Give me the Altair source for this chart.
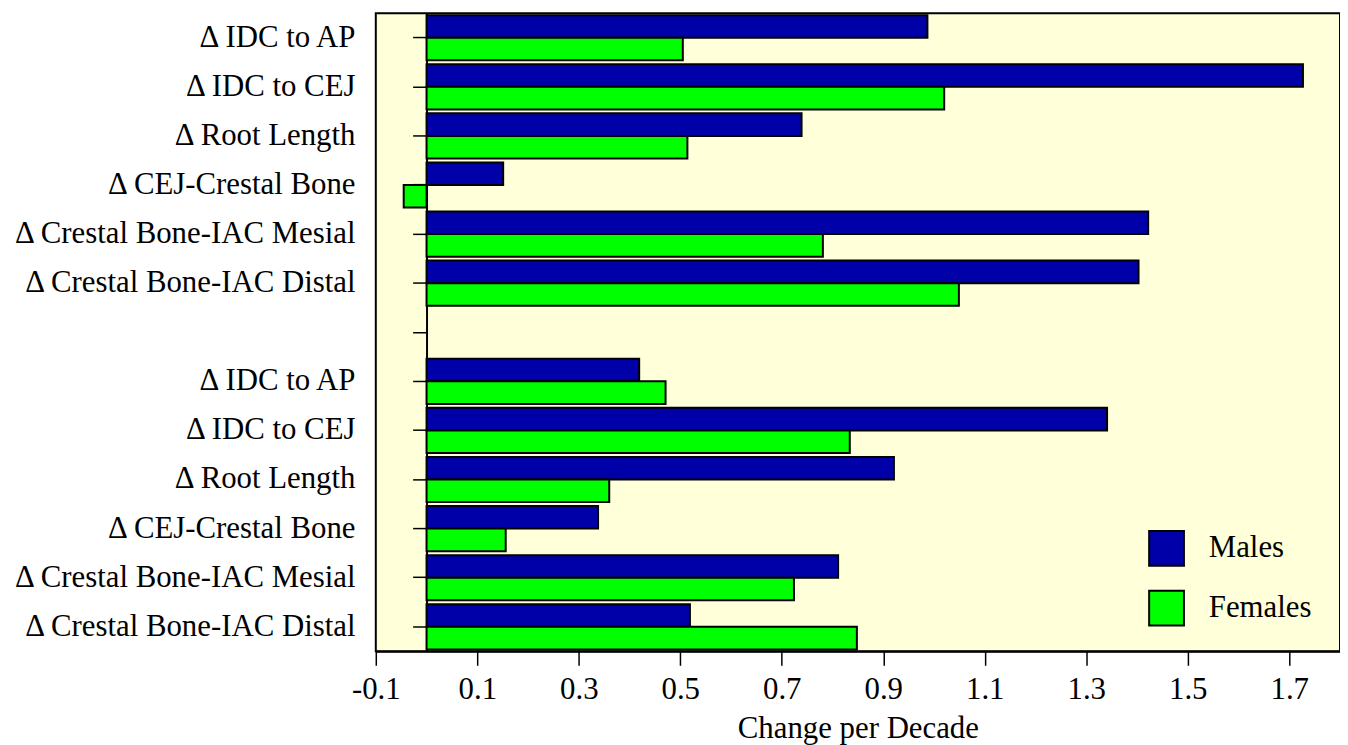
import altair as alt
import pandas as pd

# Categories (top to bottom); "" marks the blank separator row
labels = [
    "Δ IDC to AP", "Δ IDC to CEJ", "Δ Root Length", "Δ CEJ-Crestal Bone",
    "Δ Crestal Bone-IAC Mesial", "Δ Crestal Bone-IAC Distal",
    "",
    "Δ IDC to AP", "Δ IDC to CEJ", "Δ Root Length", "Δ CEJ-Crestal Bone",
    "Δ Crestal Bone-IAC Mesial", "Δ Crestal Bone-IAC Distal",
]
males = [0.987, 1.727, 0.739, 0.151, 1.422, 1.403,
         None,
         0.419, 1.341, 0.921, 0.338, 0.811, 0.519]
females = [0.505, 1.020, 0.514, -0.045, 0.781, 1.049,
           None,
           0.471, 0.834, 0.360, 0.156, 0.724, 0.848]
series = ["Males", "Females"]
colors = ["#0000A8", "#00FF00"]
x_ticks = [-0.1, 0.1, 0.3, 0.5, 0.7, 0.9, 1.1, 1.3, 1.5, 1.7]
x_domain = [-0.1, 1.8]

keys = [f"{i:02d}|{lab}" for i, lab in enumerate(labels)]
rows = []
for k, m, f in zip(keys, males, females):
    if m is not None:
        rows.append({"cat": k, "sex": "Males", "value": m})
    if f is not None:
        rows.append({"cat": k, "sex": "Females", "value": f})
df = pd.DataFrame(rows)

W, H = 970, 642
font = "Liberation Serif"
fs = 31
zero_offset = -W * (0 - x_domain[0]) / (x_domain[1] - x_domain[0])

chart = alt.Chart(df).mark_bar(stroke="black", strokeWidth=2).encode(
    x=alt.X("value:Q",
            scale=alt.Scale(domain=x_domain, nice=False, zero=False),
            axis=alt.Axis(values=x_ticks, title="Change per Decade",
                          labelExpr="datum.value < 0 ? '-' + format(-datum.value, '.1f') : format(datum.value, '.1f')",
                          grid=False, tickSize=14, tickColor="black", tickWidth=1.5,
                          domainColor="black", domainWidth=2,
                          labelFont=font, labelFontSize=fs, labelColor="black",
                          labelPadding=9, labelFlush=False,
                          titleFont=font, titleFontSize=fs, titleFontWeight="normal",
                          titleColor="black", titlePadding=10)),
    y=alt.Y("cat:N",
            scale=alt.Scale(domain=keys, paddingInner=0.08, paddingOuter=0.04),
            sort=keys,
            axis=alt.Axis(title=None, offset=zero_offset, tickSize=14,
                          tickColor="black", tickWidth=1.5,
                          domainColor="black", domainWidth=2,
                          labelExpr="split(datum.value, '|')[1]",
                          labelFont=font, labelFontSize=fs, labelColor="black",
                          labelPadding=58, labelLimit=500)),
    yOffset=alt.YOffset("sex:N", scale=alt.Scale(domain=series, paddingInner=0, paddingOuter=0),
                        sort=series),
    color=alt.Color("sex:N", scale=alt.Scale(domain=series, range=colors),
                    legend=alt.Legend(title=None, orient="none", legendX=777, legendY=520,
                                      symbolType="square", symbolSize=1225,
                                      symbolStrokeColor="black", symbolStrokeWidth=2,
                                      labelFont=font, labelFontSize=fs, labelColor="black",
                                      labelOffset=24, rowPadding=17, padding=0)),
).properties(
    width=W, height=H,
    padding={"left": 4, "top": 3, "right": 0, "bottom": 0},
).configure_view(
    stroke="black", strokeWidth=2, fill="#FFFFDA"
)

chart.save("out.html", embed_options={"renderer": "svg", "actions": False})
